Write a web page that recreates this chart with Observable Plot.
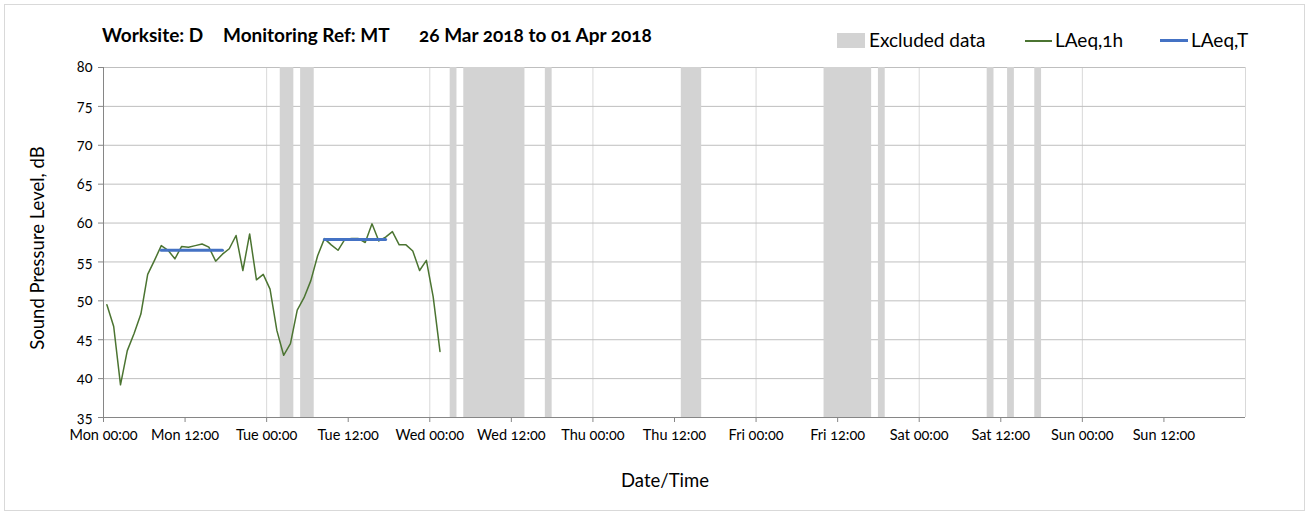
<!DOCTYPE html>
<html>
<head>
<meta charset="utf-8">
<script src="https://cdn.jsdelivr.net/npm/d3@7"></script>
<script src="https://cdn.jsdelivr.net/npm/@observablehq/plot@0.6"></script>
<style>
  body { margin: 0; background: #fff; font-family: Lato, "Open Sans", sans-serif; font-feature-settings: "onum"; }
  #frame { position: relative; width: 1309px; height: 515px; overflow: hidden; }
  #border { position: absolute; left: 4px; top: 4px; width: 1301px; height: 507px; border: 1px solid #d9d9d9; box-sizing: border-box; }
  #chart { position: absolute; left: 0; top: 0; }
  .t { position: absolute; white-space: pre; color: #000; }
  .ttl { position: absolute; top: 23px; font-size: 19px; font-weight: bold; white-space: pre; }
  .leg { position: absolute; }
  .legtxt { position: absolute; font-size: 19px; top: 28px; white-space: pre; }
  #ylab { left: 37px; top: 248px; font-size: 18.5px; transform: translate(-50%, -50%) rotate(-90deg); }
  #xlab { left: 665px; top: 480px; font-size: 18.5px; transform: translate(-50%, -50%); }
  svg { font-feature-settings: "onum"; }
</style>
</head>
<body>
<div id="frame">
  <div id="border"></div>
  <div id="chart"></div>
  <div class="ttl" style="left:102px">Worksite: D</div>
  <div class="ttl" style="left:223px">Monitoring Ref: MT</div>
  <div class="ttl" style="left:419px">26 Mar 2018 to 01 Apr 2018</div>
  <div class="leg" style="left:837px;top:33px;width:28px;height:15px;background:#d3d3d3"></div>
  <div class="legtxt" style="left:869px">Excluded data</div>
  <div class="leg" style="left:1025px;top:40px;width:27px;height:1.5px;background:#4b7431"></div>
  <div class="legtxt" style="left:1055px">LAeq,1h</div>
  <div class="leg" style="left:1160px;top:39px;width:28px;height:3px;background:#4472c4"></div>
  <div class="legtxt" style="left:1191px">LAeq,T</div>
  <div class="t" id="ylab">Sound Pressure Level, dB</div>
  <div class="t" id="xlab">Date/Time</div>
</div>
<script>
// Hourly LAeq,1h values, first at Mon 26 Mar 2018 00:30, one per hour
const laeq1hStart = "2018-03-26T00:30:00Z";
const laeq1hValues = [
  49.5, 46.7, 39.2, 43.6, 45.8, 48.3, 53.4, 55.2, 57.1, 56.5,
  55.4, 57.0, 56.9, 57.1, 57.3, 56.9, 55.1, 56.0, 56.7, 58.4,
  53.9, 58.6, 52.7, 53.4, 51.5, 46.2, 43.0, 44.5, 48.8, 50.4,
  52.6, 55.8, 58.0, 57.2, 56.5, 57.9, 58.0, 58.0, 57.5, 59.9,
  57.7, 58.2, 58.9, 57.2, 57.2, 56.4, 53.9, 55.2, 50.5, 43.5
];

// LAeq,T periods
const laeqTStart = ["2018-03-26T08:30:00Z", "2018-03-27T08:30:00Z"];
const laeqTEnd   = ["2018-03-26T17:30:00Z", "2018-03-27T17:30:00Z"];
const laeqTValues = [56.5, 57.9];

// Excluded data periods
const excludedStart = [
  "2018-03-27T02:00:00Z", "2018-03-27T05:00:00Z", "2018-03-28T03:00:00Z",
  "2018-03-28T05:00:00Z", "2018-03-28T17:00:00Z", "2018-03-29T13:00:00Z",
  "2018-03-30T10:00:00Z", "2018-03-30T18:00:00Z", "2018-03-31T10:00:00Z",
  "2018-03-31T13:00:00Z", "2018-03-31T17:00:00Z"
];
const excludedEnd = [
  "2018-03-27T04:00:00Z", "2018-03-27T07:00:00Z", "2018-03-28T04:00:00Z",
  "2018-03-28T14:00:00Z", "2018-03-28T18:00:00Z", "2018-03-29T16:00:00Z",
  "2018-03-30T17:00:00Z", "2018-03-30T19:00:00Z", "2018-03-31T11:00:00Z",
  "2018-03-31T14:00:00Z", "2018-03-31T18:00:00Z"
];

const yTicks = [35, 40, 45, 50, 55, 60, 65, 70, 75, 80];
const xDomain = ["2018-03-26T00:00:00Z", "2018-04-02T00:00:00Z"];

// build tables
const t0 = new Date(laeq1hStart);
const hourly = laeq1hValues.map((v, i) => ({ t: d3.utcHour.offset(t0, i), v }));
const laeqT = [];
laeqTValues.forEach((v, i) => {
  laeqT.push({ t: new Date(laeqTStart[i]), v, p: i });
  laeqT.push({ t: new Date(laeqTEnd[i]), v, p: i });
});
const excluded = excludedStart.map((s, i) => ({ x1: new Date(s), x2: new Date(excludedEnd[i]) }));
const x0 = new Date(xDomain[0]), x1 = new Date(xDomain[1]);
const dayLines = d3.utcDay.range(d3.utcDay.offset(x0, 1), d3.utcDay.offset(x1, 1));
const xTicks = d3.utcHour.every(12).range(x0, x1);

const chart = Plot.plot({
  width: 1309,
  height: 515,
  marginLeft: 103,
  marginRight: 64,
  marginTop: 67,
  marginBottom: 98,
  style: { fontFamily: "Lato, 'Open Sans', sans-serif", fontSize: "14.5px", color: "#000", background: "transparent" },
  x: { type: "utc", domain: [x0, x1] },
  y: { domain: [35, 80] },
  marks: [
    Plot.ruleX(dayLines, { stroke: "#d9d9d9", strokeWidth: 1 }),
    Plot.ruleY(yTicks.filter(d => d > 35), { stroke: "#bfbfbf", strokeWidth: 1 }),
    Plot.rect(excluded, { x1: "x1", x2: "x2", y1: () => 35, y2: () => 80, fill: "#d3d3d3" }),
    Plot.ruleX([x0], { stroke: "#868686" }),
    Plot.ruleY([35], { stroke: "#868686" }),
    Plot.axisY({ ticks: yTicks, tickSize: 5, tickPadding: 6, stroke: "#868686", fill: "#000", label: null }),
    Plot.axisX({ ticks: xTicks, tickSize: 5, tickPadding: 7, tickFormat: d3.utcFormat("%a %H:%M"), stroke: "#868686", fill: "#000", label: null }),
    Plot.line(hourly, { x: "t", y: "v", stroke: "#4b7431", strokeWidth: 1.5 }),
    Plot.line(laeqT, { x: "t", y: "v", z: "p", stroke: "#4472c4", strokeWidth: 3 })
  ]
});
document.getElementById("chart").appendChild(chart);
</script>
</body>
</html>
